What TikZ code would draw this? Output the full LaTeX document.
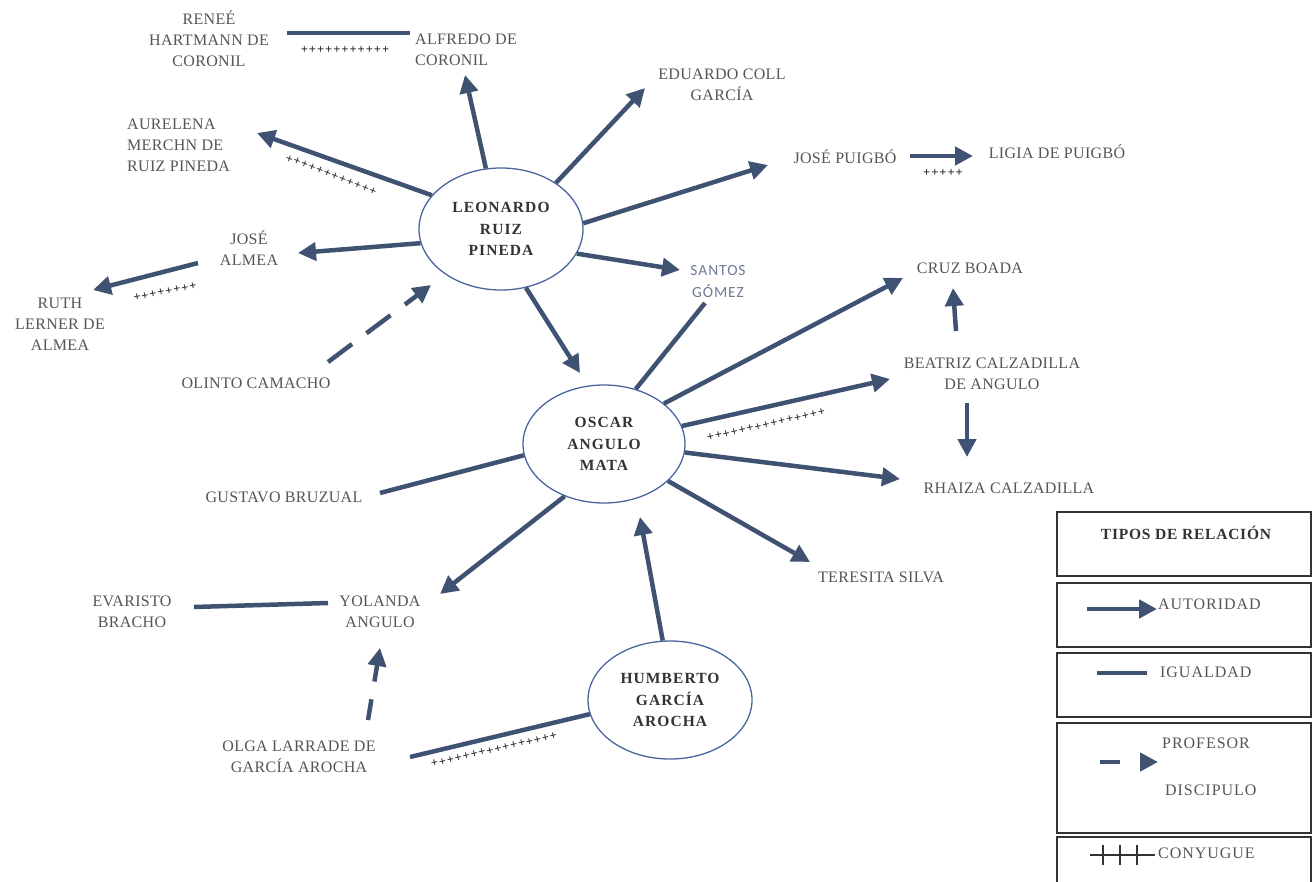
\documentclass[tikz,border=0pt]{standalone}
\usepackage{fontspec}
\setmainfont{Liberation Serif}
\newfontfamily\lblfont[LetterSpace=2]{Liberation Serif}
\newfontfamily\boldfont[LetterSpace=7]{Liberation Serif}
\newfontfamily\lgdfont[LetterSpace=6]{Liberation Serif}
\newfontfamily\ttlfont[LetterSpace=5]{Liberation Serif}
\newfontfamily\snsfont[LetterSpace=6]{Carlito}
\newfontfamily\plsfont[LetterSpace=8]{Liberation Serif}
\usetikzlibrary{arrows.meta,shapes.geometric,calc}
\definecolor{lncol}{HTML}{3F5272}
\definecolor{ellcol}{HTML}{4A66A0}
\definecolor{txcol}{HTML}{555555}
\definecolor{etxcol}{HTML}{333333}
\definecolor{sncol}{HTML}{6E7D99}
\definecolor{bxcol}{HTML}{333333}
\tikzset{
  lab/.style={font=\lblfont\fontsize{16}{21}\selectfont, text=txcol, align=center, inner sep=0pt},
  person/.style={ellipse, draw=ellcol, line width=1.3pt, font=\boldfont\bfseries\fontsize{15.5}{21.5}\selectfont,
     text=etxcol, align=center, inner sep=0pt, minimum width=164pt, minimum height=122pt},
  aut/.style={draw=lncol, line width=4.5pt, -{Triangle[length=18pt,width=18pt]}},
  igu/.style={draw=lncol, line width=4.5pt},
  pro/.style={aut, dash pattern=on 30pt off 18pt},
  pro2/.style={aut, dash pattern=on 21pt off 18pt},
  plusmark/.style={font=\plsfont\bfseries\fontsize{12.5}{12}\selectfont, text=black!85, inner sep=0pt},
  legbox/.style={draw=bxcol, line width=1.6pt},
  legtxt/.style={font=\lgdfont\fontsize{16}{20}\selectfont, text=txcol, inner sep=0pt, anchor=west},
}
\begin{document}
\begin{tikzpicture}[x=1pt,y=-1pt]
\useasboundingbox (0,0) rectangle (1312,881);
\fill[white] (0,0) rectangle (1312,881);

% ---- central persons ----
\node[person] (leo) at (501,229) {LEONARDO\\RUIZ\\PINEDA};
\node[person, minimum width=162pt, minimum height=118pt] (oscar) at (604,444) {OSCAR\\ANGULO\\MATA};
\node[person, minimum height=118pt] (humb) at (670,700) {HUMBERTO\\GARCÍA\\AROCHA};

% ---- labels ----
\node[lab] (renee) at (209,39) {RENEÉ\\HARTMANN DE\\CORONIL};
\node[lab, align=left, anchor=west] (alfredo) at (415,50) {ALFREDO DE\\CORONIL};
\node[lab] (eduardo) at (722,85) {EDUARDO COLL\\GARCÍA};
\node[lab] (puigbo) at (845,157) {JOSÉ PUIGBÓ};
\node[lab] (ligia) at (1057,152) {LIGIA DE PUIGBÓ};
\node[lab, align=left, anchor=west] (aurelena) at (127,145) {AURELENA\\MERCHN DE\\RUIZ PINEDA};
\node[lab] (jalmea) at (249,248) {JOSÉ\\ALMEA};
\node[lab] (ruth) at (60,324) {RUTH\\LERNER DE\\ALMEA};
\node[lab] (olinto) at (256,383) {OLINTO CAMACHO};
\node[font=\snsfont\fontsize{15.5}{22}\selectfont, text=sncol, align=center, inner sep=0pt] (santos) at (718,282) {SANTOS\\GÓMEZ};
\node[lab] (cruz) at (970,268) {CRUZ BOADA};
\node[lab] (beatriz) at (992,374) {BEATRIZ CALZADILLA\\DE ANGULO};
\node[lab] (rhaiza) at (1009,488) {RHAIZA CALZADILLA};
\node[lab] (teresita) at (881,577) {TERESITA SILVA};
\node[lab] (gustavo) at (284,497) {GUSTAVO BRUZUAL};
\node[lab] (yolanda) at (380,612) {YOLANDA\\ANGULO};
\node[lab] (evaristo) at (132,612) {EVARISTO\\BRACHO};
\node[lab] (olga) at (299,757) {OLGA LARRADE DE\\GARCÍA AROCHA};

% ---- connectors ----
\draw[igu] ([shift={(78,-6)}]renee.center) -- ([shift={(-5,-17)}]alfredo.west);
\node[plusmark] (p1) at (345,50) {+++++++++++};
\draw[aut] (leo.104) -- ([shift={(50,25)}]alfredo.west);
\draw[aut] (leo.40) -- ([shift={(-77,3)}]eduardo.center);
\draw[aut] (leo.4) -- ([shift={(-77,8)}]puigbo.center);
\draw[aut] ([shift={(65,-1)}]puigbo.center) -- ([shift={(-84,4)}]ligia.center);
\node[plusmark] (p2) at (943,173) {+++++};
\draw[aut] (leo.342) -- ([shift={(-38,-12)}]santos.center);
\draw[aut] (leo.154) -- ([shift={(130,-12)}]aurelena.west);
\node[plusmark, rotate=-21] (p3) at (331,175) {++++++++++++};
\draw[aut] (leo.190) -- ([shift={(49,5)}]jalmea.center);
\draw[aut] ([shift={(-51,15)}]jalmea.center) -- ([shift={(33,-34)}]ruth.center);
\node[plusmark, rotate=11] (p4) at (165,292) {++++++++};
\draw[pro] ([shift={(72,-21)}]olinto.center) -- ([shift={(-70,56)}]leo.center);
\draw[aut] (leo.293) -- ([shift={(-24,-71)}]oscar.center);
\draw[igu] (oscar.60) -- ([shift={(-13,21)}]santos.center);
\draw[aut] (oscar.34) -- ([shift={(-67,10)}]cruz.center);
\draw[aut] (oscar.13) -- ([shift={(-102,5)}]beatriz.center);
\node[plusmark, rotate=12.7] (p5) at (766,425) {+++++++++++++++};
\draw[aut] ([shift={(-36,-43)}]beatriz.center) -- ([shift={(-17,20)}]cruz.center);
\draw[aut] ([shift={(-25,29)}]beatriz.center) -- ([shift={(-42,-31)}]rhaiza.center);
\draw[aut] (oscar.354) -- ([shift={(-109,-9)}]rhaiza.center);
\draw[aut] (oscar.330) -- ([shift={(-71,-15)}]teresita.center);
\draw[igu] ([shift={(96,-4)}]gustavo.center) -- (oscar.188);
\draw[aut] (oscar.233) -- ([shift={(60,-18)}]yolanda.center);
\draw[igu] ([shift={(62,-5)}]evaristo.center) -- ([shift={(-52,-9)}]yolanda.center);
\draw[pro2] ([shift={(69,-37)}]olga.center) -- ([shift={(0,36)}]yolanda.center);
\draw[igu] ([shift={(111,0)}]olga.center) -- (humb.190);
\node[plusmark, rotate=13] (p6) at (494,750) {++++++++++++++++};
\draw[aut] (humb.97) -- ([shift={(36,73)}]oscar.center);

% ---- legend ----
\draw[legbox] (1057,512) rectangle (1311,576);
\draw[legbox] (1057,583) rectangle (1311,647);
\draw[legbox] (1057,653) rectangle (1311,717);
\draw[legbox] (1057,723) rectangle (1311,833);
\draw[legbox] (1057,837) rectangle (1311,895);
\node[font=\ttlfont\bfseries\fontsize{15.5}{18}\selectfont, text=etxcol, inner sep=0pt] (ltitle) at (1186,533) {TIPOS DE RELACIÓN};
\coordinate (la1) at (1087,609); \coordinate (la2) at (1157,609);
\draw[aut] (la1) -- (la2);
\node[legtxt] (lautor) at (1158,604) {AUTORIDAD};
\coordinate (lb1) at (1097,673); \coordinate (lb2) at (1147,673);
\draw[igu] (lb1) -- (lb2);
\node[legtxt] (liguald) at (1160,672) {IGUALDAD};
\coordinate (lc1) at (1100,762); \coordinate (lc2) at (1158,762);
\draw[aut, dash pattern=on 20pt off 20pt] (lc1) -- (lc2);
\node[legtxt] (lprof) at (1162,743) {PROFESOR};
\node[legtxt] (ldisc) at (1165,790) {DISCIPULO};
\coordinate (ld1) at (1090,855); \coordinate (ld2) at (1155,855);
\draw[bxcol, line width=1.2pt] (ld1) -- (ld2);
\foreach \tx in {1103,1120,1137} \draw[bxcol, line width=1.2pt] (\tx,845) -- (\tx,865);
\node[legtxt] (lcony) at (1158,853) {CONYUGUE};
\end{tikzpicture}
\end{document}
